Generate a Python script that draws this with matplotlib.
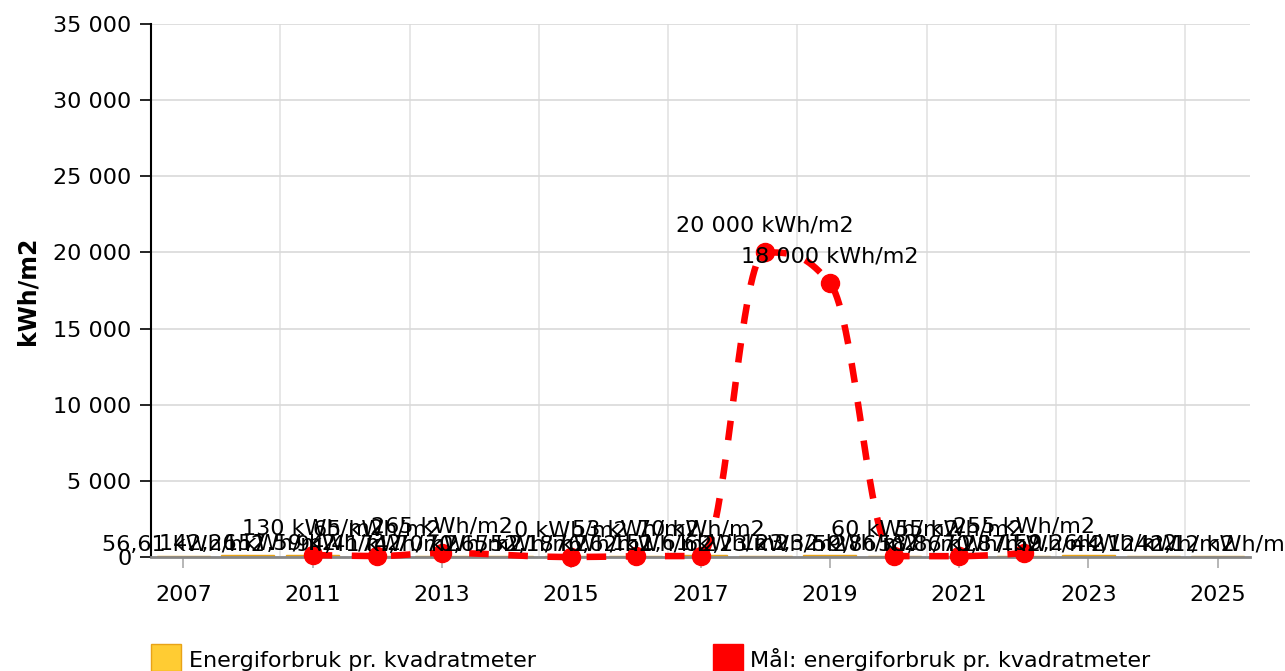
#!/usr/bin/env python3
import matplotlib
matplotlib.use("Agg")
import matplotlib.pyplot as plt
from matplotlib.patches import Rectangle
from matplotlib.ticker import FuncFormatter

years = ['2007', '2010', '2011', '2012', '2013', '2014', '2015', '2016', '2017',
         '2018', '2019', '2020', '2021', '2022', '2023', '2024', '2025']
energy = [56.61, 142.26, 157.59, 94.41, 74.70, 70.65, 52.18, 76.62, 151.61,
          62.23, 123.32, 59.86, 58.86, 70.87, 159.26, 44.12, 42.12]
goal = [None, None, 130, 65, 265, None, 0, 53, 70,
        20000, 18000, 60, 55, 255, None, None, None]

YELLOW = '#FFCC33'
YELLOW_EDGE = '#E8A317'
RED = '#FF0000'


def fmt_num(v, decimals):
	s = "{:,.{d}f}".format(v, d=decimals)
	return s.replace(",", " ").replace(".", ",")


def spline(xs, ys, steps=40):
	# highcharts style spline (smoothing 1.5) drawn as cubic bezier segments
	sm = 1.5
	den = sm + 1
	n = len(xs)
	left = [(xs[i], ys[i]) for i in range(n)]
	right = [(xs[i], ys[i]) for i in range(n)]
	for i in range(1, n - 1):
		px, py = xs[i], ys[i]
		lx, ly = xs[i - 1], ys[i - 1]
		nx, ny = xs[i + 1], ys[i + 1]
		lcx = (sm * px + lx) / den
		lcy = (sm * py + ly) / den
		rcx = (sm * px + nx) / den
		rcy = (sm * py + ny) / den
		corr = 0
		if rcx != lcx:
			corr = (rcy - lcy) * (rcx - px) / (rcx - lcx) + py - rcy
		lcy += corr
		rcy += corr
		if lcy > ly and lcy > py:
			lcy = max(ly, py)
			rcy = 2 * py - lcy
		elif lcy < ly and lcy < py:
			lcy = min(ly, py)
			rcy = 2 * py - lcy
		if rcy > ny and rcy > py:
			rcy = max(ny, py)
			lcy = 2 * py - rcy
		elif rcy < ny and rcy < py:
			rcy = min(ny, py)
			lcy = 2 * py - rcy
		left[i] = (lcx, lcy)
		right[i] = (rcx, rcy)
	out_x = [xs[0]]
	out_y = [ys[0]]
	for i in range(1, n):
		p0 = (xs[i - 1], ys[i - 1])
		p1 = right[i - 1]
		p2 = left[i]
		p3 = (xs[i], ys[i])
		for k in range(1, steps + 1):
			t = k / steps
			a = (1 - t) ** 3
			b = 3 * (1 - t) ** 2 * t
			c = 3 * (1 - t) * t ** 2
			d = t ** 3
			out_x.append(a * p0[0] + b * p1[0] + c * p2[0] + d * p3[0])
			out_y.append(a * p0[1] + b * p1[1] + c * p2[1] + d * p3[1])
	return out_x, out_y


def main():
	W, H = 1285, 671
	fig = plt.figure(figsize=(W / 100, H / 100), dpi=100)
	ax = fig.add_axes([151 / W, 1 - 557 / H, (1250 - 151) / W, (557 - 24) / H])

	idx = list(range(len(years)))
	ax.set_xlim(-0.5, len(years) - 0.5)
	ax.set_ylim(0, 35000)

	# grid
	ax.set_yticks(range(0, 35001, 5000))
	ax.yaxis.set_major_formatter(FuncFormatter(lambda v, p: fmt_num(v, 0)))
	ax.grid(axis='y', color='#d9d9d9', linewidth=1.2, zorder=0)
	for g in range(1, len(years), 2):
		ax.axvline(g + 0.5, color='#e3e3e3', linewidth=1.2, zorder=0)

	ax.set_xticks(idx[::2])
	ax.set_xticklabels(years[::2])
	ax.tick_params(axis='x', length=8, width=1.2, color='#aaaaaa', labelsize=16, pad=12)
	ax.tick_params(axis='y', length=8, width=1.2, color='black', labelsize=16, pad=6)

	for s in ['top', 'right']:
		ax.spines[s].set_visible(False)
	ax.spines['left'].set_color('black')
	ax.spines['left'].set_linewidth(1.5)
	ax.spines['bottom'].set_color('#888888')
	ax.spines['bottom'].set_linewidth(2)

	ax.set_ylabel('kWh/m2', fontsize=17, fontweight='bold', labelpad=10)

	# bars
	ax.bar(idx, energy, width=0.82, color=YELLOW, edgecolor=YELLOW_EDGE,
	       linewidth=1, zorder=2)

	# goal line
	gx = [i for i, v in enumerate(goal) if v is not None]
	gy = [v for v in goal if v is not None]
	sx, sy = spline(gx, gy)
	ax.plot(sx, sy, color=RED, linewidth=4.7, dashes=(3, 3), zorder=3,
	        solid_capstyle='butt', dash_capstyle='butt', clip_on=False)
	ax.plot(gx, gy, 'o', color=RED, markersize=13, zorder=4, clip_on=False)

	# labels
	for i, v in enumerate(energy):
		ax.annotate(fmt_num(v, 2) + " kWh/m2", (i, v), xytext=(0, 3.5),
		            textcoords='offset points', ha='center', va='baseline',
		            fontsize=16, zorder=6, annotation_clip=False)
	for x, v in zip(gx, gy):
		ax.annotate(fmt_num(v, 0) + " kWh/m2", (x, v), xytext=(0, 15),
		            textcoords='offset points', ha='center', va='baseline',
		            fontsize=16, zorder=6, annotation_clip=False)

	# legend
	fig.patches.append(Rectangle((151 / W, 0), 30 / W, 27 / H, transform=fig.transFigure,
	                             facecolor=YELLOW, edgecolor=YELLOW_EDGE, linewidth=1))
	fig.text(189 / W, 4 / H, 'Energiforbruk pr. kvadratmeter', fontsize=16, va='baseline')
	fig.patches.append(Rectangle((713 / W, 0), 30 / W, 27 / H, transform=fig.transFigure,
	                             facecolor=RED, edgecolor=RED, linewidth=1))
	fig.text(750 / W, 4 / H, 'Mål: energiforbruk pr. kvadratmeter', fontsize=16, va='baseline')

	fig.savefig('out.png', dpi=100)


if __name__ == '__main__':
	main()
